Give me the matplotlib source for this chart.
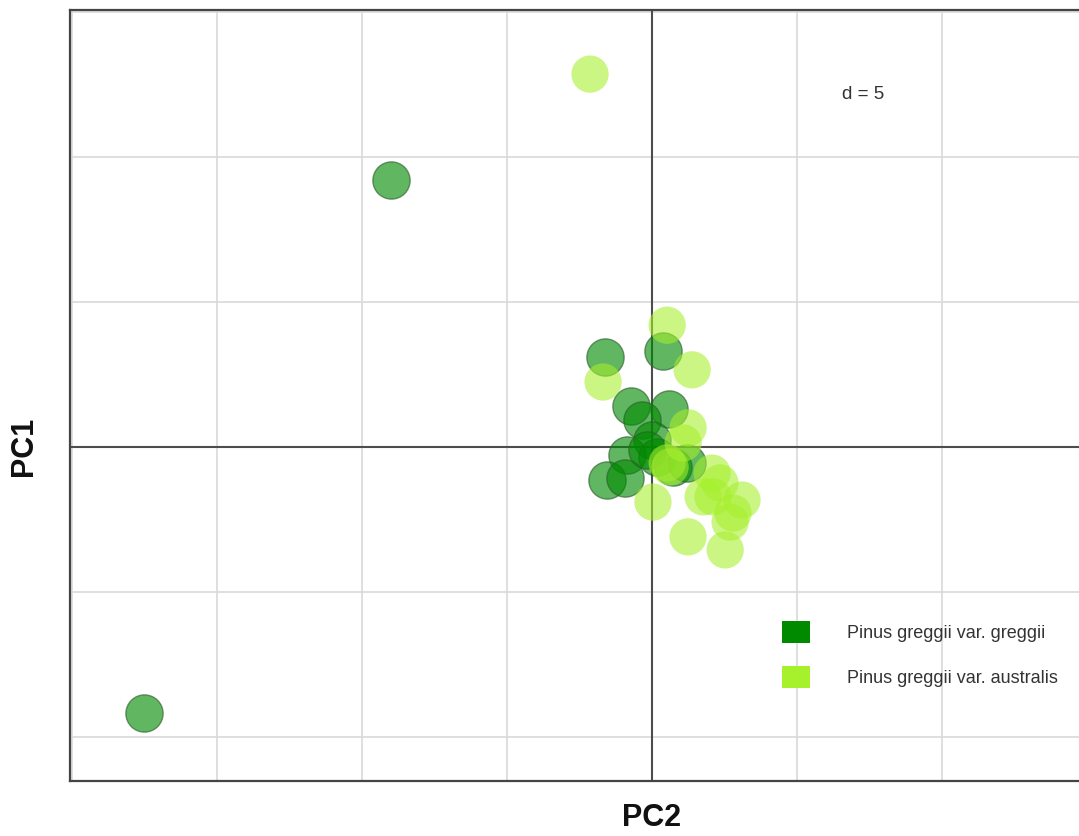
import matplotlib
matplotlib.use("Agg")
import matplotlib.pyplot as plt
from matplotlib.patches import Patch

plt.rcParams["font.family"] = ["Liberation Sans", "DejaVu Sans"]

# PCA scores per individual (PC2 on x, PC1 on y)
greggii_pc2 = [-17.53, -9.00, -1.62, 0.38, -0.72, 0.59, -0.34, 0.00, -0.86,
               -1.55, -0.93, 0.17, 0.72, 1.20, -0.17]
greggii_pc1 = [-9.17, 9.21, 3.10, 3.31, 1.41, 1.31, 0.93, 0.24, -0.28,
               -1.14, -1.07, -0.34, -0.69, -0.55, -0.10]

australis_pc2 = [-2.14, 0.52, -1.69, 1.38, 1.24, 1.07, 0.52, 0.62, 0.03,
                 2.07, 2.10, 1.76, 3.10, 2.69, 1.24, 2.52, 2.79, 2.34]
australis_pc1 = [12.86, 4.20, 2.24, 2.66, 0.66, 0.14, -0.55, -0.69, -1.90,
                 -0.90, -1.72, -1.72, -1.83, -2.59, -3.10, -3.55, -2.28, -1.24]

group_names = ["Pinus greggii var. greggii", "Pinus greggii var. australis"]
group_colors = ["#008a00", "#a6f02c"]
grid_step = 5

fig = plt.figure(figsize=(10.79, 8.36), dpi=100)
ax = fig.add_axes([0.0649, 0.0658, 0.9351, 0.9222])

ax.set_xlim(-20.07, 14.72)
ax.set_ylim(-11.52, 15.07)

# light grid every d units
for gx in range(-20, 15, grid_step):
    ax.axvline(gx, color="#d9d9d9", lw=1.2, zorder=0)
for gy in range(-10, 16, grid_step):
    ax.axhline(gy, color="#d9d9d9", lw=1.2, zorder=0)
ax.axvline(0, color="#4d4d4d", lw=1.5, zorder=1)
ax.axhline(0, color="#4d4d4d", lw=1.5, zorder=1)

ax.scatter(greggii_pc2, greggii_pc1, s=720, color=group_colors[0], alpha=0.62,
           edgecolors="#2d5e2d", linewidths=1.0, zorder=3)
ax.scatter(australis_pc2, australis_pc1, s=720, color=group_colors[1], alpha=0.58,
           edgecolors="none", zorder=4)

ax.set_xticks([])
ax.set_yticks([])
for side in ["top", "left", "bottom"]:
    ax.spines[side].set_color("#444444")
    ax.spines[side].set_linewidth(1.6)
ax.spines["right"].set_visible(False)

ax.text(0.786, 0.891, "d = 5", transform=ax.transAxes, fontsize=13.5,
        color="#333333", ha="center", va="center",
        bbox=dict(facecolor="white", edgecolor="none", pad=3))

handles = [Patch(facecolor=c, edgecolor="none") for c in group_colors]
leg = ax.legend(handles, group_names, loc="upper left",
                bbox_to_anchor=(0.69, 0.228), frameon=False, fontsize=13,
                handlelength=1.5, handleheight=1.5, handletextpad=2.1,
                labelspacing=1.27)
for t in leg.get_texts():
    t.set_color("#333333")

fig.text(0.0222, 0.4665, "PC1", rotation=90, fontsize=22, fontweight="bold",
         ha="center", va="center", color="#111111")
fig.text(0.6043, 0.0215, "PC2", fontsize=22, fontweight="bold",
         ha="center", va="center", color="#111111")

fig.savefig("out.png", dpi=100, facecolor="white")
